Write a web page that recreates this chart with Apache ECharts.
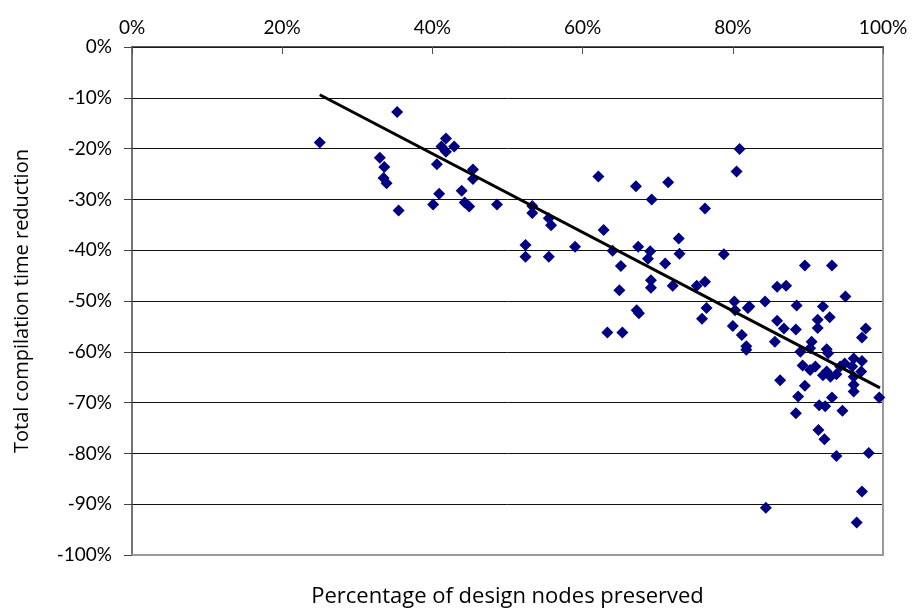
<!DOCTYPE html>
<html>
<head>
<meta charset="utf-8">
<script src="https://cdn.jsdelivr.net/npm/echarts@6/dist/echarts.min.js"></script>
<style>
  html, body { margin: 0; padding: 0; background: #fff; }
  #chart { width: 915px; height: 609px; }
</style>
</head>
<body>
<div id="chart"></div>
<script>
// percentage of design nodes preserved (x) / total compilation time reduction (y)
var preserved = [
  25.0, 35.3, 33.0, 33.6, 33.5, 33.9, 35.5, 41.8, 41.2, 41.8,
  42.9, 40.6, 45.4, 45.4, 40.9, 43.9, 40.1, 44.3, 44.9, 48.6,
  53.3, 53.3, 55.5, 55.8, 52.4, 52.4, 55.5, 59.0, 62.1, 62.8,
  64.0, 65.1, 64.9, 67.4, 69.0, 68.7, 71.0, 67.1, 69.2, 71.4,
  69.1, 69.1, 72.0, 72.8, 72.9, 67.2, 67.5, 63.3, 65.3, 80.9,
  80.5, 76.3, 78.8, 75.2, 76.3, 76.5, 75.9, 80.2, 80.3, 82.0,
  82.2, 84.3, 85.9, 80.0, 81.2, 81.8, 81.8, 85.6, 85.9, 89.6,
  93.2, 87.1, 95.0, 88.5, 92.0, 91.3, 92.9, 86.8, 88.4, 91.3,
  97.7, 97.2, 90.5, 90.3, 89.0, 92.5, 92.7, 89.3, 90.3, 91.0,
  92.0, 92.5, 93.0, 93.8, 94.3, 94.9, 96.1, 97.2, 95.9, 97.1,
  86.3, 89.6, 96.1, 96.1, 88.7, 91.5, 92.3, 93.2, 94.6, 88.4,
  96.1, 99.5, 91.4, 92.2, 93.8, 98.1, 97.2, 84.4, 96.5
];
var reduction = [
  -18.8, -12.8, -21.8, -23.6, -25.8, -26.8, -32.2, -18.0, -19.6, -20.6,
  -19.6, -23.1, -24.1, -26.0, -28.9, -28.3, -31.0, -30.6, -31.4, -31.0,
  -31.3, -32.7, -33.7, -35.1, -39.0, -41.3, -41.3, -39.3, -25.5, -36.0,
  -40.1, -43.1, -47.9, -39.3, -40.2, -41.7, -42.6, -27.4, -30.0, -26.6,
  -45.9, -47.4, -47.0, -37.7, -40.7, -51.8, -52.4, -56.2, -56.2, -20.1,
  -24.5, -31.8, -40.8, -47.0, -46.2, -51.4, -53.5, -50.1, -51.8, -51.4,
  -51.1, -50.1, -47.2, -54.9, -56.7, -58.9, -59.6, -58.0, -53.9, -43.0,
  -43.0, -47.0, -49.1, -50.9, -51.1, -53.7, -53.2, -55.4, -55.6, -55.3,
  -55.4, -57.2, -58.0, -59.3, -60.0, -59.5, -60.3, -62.7, -63.6, -62.9,
  -64.6, -63.9, -64.9, -64.4, -62.9, -62.3, -61.3, -61.8, -62.9, -63.9,
  -65.6, -66.7, -64.9, -66.5, -68.8, -70.5, -70.7, -69.0, -71.6, -72.1,
  -67.8, -69.0, -75.4, -77.2, -80.5, -79.9, -87.5, -90.7, -93.6
];
// linear trend line end points
var trendX = [25.0, 99.6];
var trendY = [-9.4, -67.1];

var xTicks = [0, 20, 40, 60, 80, 100];
var yMin = -100, yMax = 0, yStep = 10;

var font = 'Lato, "DejaVu Sans", sans-serif';
var nameFont = '"Open Sans", "DejaVu Sans", sans-serif';

var chartBox = document.getElementById('chart');
var chart = echarts.init(chartBox, null, { renderer: 'canvas' });

var points = preserved.map(function (x, i) { return [x, reduction[i]]; });
var trend = trendX.map(function (x, i) { return [x, trendY[i]]; });

var option = {
    animation: false,
    backgroundColor: '#fff',
    grid: {
        left: 132,
        right: 32,
        top: 47,
        bottom: 54,
        outerBoundsMode: 'none'
    },
    xAxis: [
        {
            type: 'value',
            position: 'top',
            min: xTicks[0],
            max: xTicks[xTicks.length - 1],
            interval: 20,
            axisLine: { show: true, lineStyle: { color: '#222', width: 1.5 } },
            axisTick: { show: true, inside: true, length: 7, lineStyle: { color: '#555' } },
            axisLabel: {
                formatter: '{value}%',
                color: '#000',
                fontSize: 19,
                fontFamily: font,
                margin: 10
            },
            splitLine: { show: false }
        },
        {
            type: 'value',
            position: 'bottom',
            min: 0,
            max: 100,
            axisLine: { show: true, onZero: false, lineStyle: { color: '#999', width: 2 } },
            axisTick: { show: false },
            axisLabel: { show: false },
            splitLine: { show: false },
            name: 'Percentage of design nodes preserved',
            nameLocation: 'middle',
            nameGap: 31,
            nameTextStyle: { color: '#000', fontSize: 22, fontFamily: nameFont }
        }
    ],
    yAxis: [
        {
            type: 'value',
            position: 'left',
            min: yMin,
            max: yMax,
            interval: yStep,
            axisLine: { show: true, onZero: false, lineStyle: { color: '#444', width: 1.5 } },
            axisTick: { show: true, length: 8, lineStyle: { color: '#444' } },
            axisLabel: {
                formatter: '{value}%',
                color: '#000',
                fontSize: 19,
                fontFamily: font,
                margin: 20
            },
            splitLine: { show: true, lineStyle: { color: '#111', width: 1 } },
            name: 'Total compilation time reduction',
            nameLocation: 'middle',
            nameRotate: 90,
            nameGap: 100,
            nameTextStyle: { color: '#000', fontSize: 20, fontFamily: nameFont }
        },
        {
            type: 'value',
            position: 'right',
            min: yMin,
            max: yMax,
            axisLine: { show: true, onZero: false, lineStyle: { color: '#999', width: 2 } },
            axisTick: { show: false },
            axisLabel: { show: false },
            splitLine: { show: false }
        }
    ],
    series: [
        {
            type: 'scatter',
            symbol: 'diamond',
            symbolSize: 12,
            itemStyle: { color: '#000080', opacity: 1 },
            data: points,
            z: 3
        },
        {
            type: 'line',
            data: trend,
            showSymbol: false,
            symbol: 'none',
            lineStyle: { color: '#000', width: 3 },
            z: 4
        }
    ]
};
chart.setOption(option);
</script>
</body>
</html>
